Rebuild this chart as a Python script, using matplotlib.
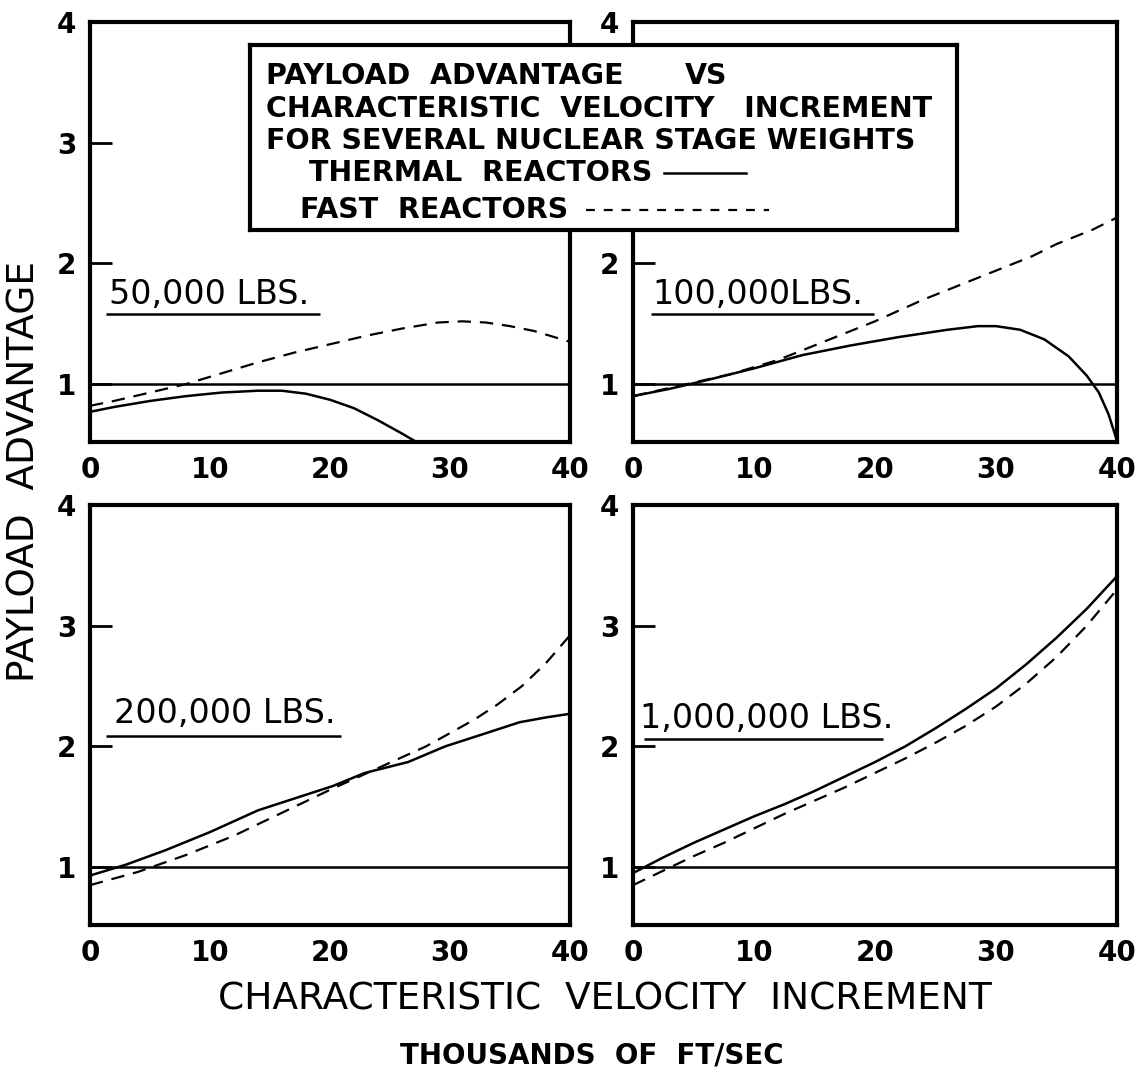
import matplotlib.pyplot as plt

# ---------------------------------------------------------------
# Payload advantage vs characteristic velocity increment
# (x in thousands of ft/sec)
# ---------------------------------------------------------------

STAGE_LABELS = ["50,000 LBS.", "100,000LBS.", "200,000 LBS.", "1,000,000 LBS."]

# 50,000 lbs
X_50K_THERMAL = [0, 2, 5, 8, 11, 14, 16, 18, 20, 22, 24, 26, 27.2]
Y_50K_THERMAL = [0.77, 0.81, 0.86, 0.90, 0.93, 0.945, 0.945, 0.92, 0.87, 0.80, 0.70, 0.59, 0.52]
X_50K_FAST = [0, 2, 5, 8, 11, 14, 17, 20, 23, 26, 29, 31, 33, 35, 37, 40]
Y_50K_FAST = [0.82, 0.86, 0.93, 1.00, 1.09, 1.18, 1.26, 1.33, 1.40, 1.46, 1.51, 1.52, 1.51, 1.48, 1.44, 1.35]

# 100,000 lbs
X_100K_THERMAL = [0, 3, 6, 10, 14, 18, 22, 26, 28.5, 30, 32, 34, 36, 37.5, 38.5, 39.3, 40]
Y_100K_THERMAL = [0.90, 0.96, 1.03, 1.13, 1.24, 1.32, 1.39, 1.45, 1.48, 1.48, 1.45, 1.37, 1.23, 1.07, 0.93, 0.75, 0.53]
X_100K_FAST = [0, 4, 8, 12, 16, 20, 24, 27.5, 30, 33, 35, 38, 40]
Y_100K_FAST = [0.90, 0.99, 1.08, 1.20, 1.36, 1.52, 1.70, 1.84, 1.94, 2.06, 2.16, 2.28, 2.38]

# 200,000 lbs
X_200K_THERMAL = [0, 3, 6.3, 10, 14, 17.4, 20.2, 22.9, 26.5, 29.6, 32.4, 35.8, 38, 40]
Y_200K_THERMAL = [0.93, 1.02, 1.14, 1.29, 1.47, 1.58, 1.67, 1.78, 1.87, 2.00, 2.09, 2.20, 2.24, 2.27]
X_200K_FAST = [0, 4, 8, 12, 16, 20, 24, 28, 32, 34, 36, 38, 40]
Y_200K_FAST = [0.85, 0.96, 1.10, 1.26, 1.45, 1.64, 1.82, 2.00, 2.22, 2.35, 2.50, 2.69, 2.92]

# 1,000,000 lbs
X_1M_THERMAL = [0, 2.5, 5, 7.5, 10, 12.5, 15, 17.5, 20, 22.5, 25, 27.5, 30, 32.5, 35, 37.5, 40]
Y_1M_THERMAL = [0.95, 1.08, 1.20, 1.31, 1.42, 1.52, 1.63, 1.75, 1.87, 2.00, 2.15, 2.31, 2.48, 2.68, 2.90, 3.14, 3.41]
X_1M_FAST = [0, 2.5, 5, 7.5, 10, 12.5, 15, 17.5, 20, 22.5, 25, 27.5, 30, 32.5, 35, 37.5, 40]
Y_1M_FAST = [0.85, 0.97, 1.09, 1.20, 1.32, 1.44, 1.55, 1.66, 1.78, 1.90, 2.03, 2.17, 2.33, 2.52, 2.74, 3.00, 3.30]

X_TICKS = [0, 10, 20, 30, 40]
Y_TICKS = [1, 2, 3, 4]
Y_TICK_LABELS = ["1", "2", "3", "4"]

plt.rcParams.update({
    "font.family": "DejaVu Sans",
    "axes.linewidth": 3.0,
})

W, H = 1140, 1074
fig = plt.figure(figsize=(W / 100, H / 100), dpi=100)
fig.patch.set_facecolor("white")


def fig_rect(x0, y0, x1, y1):
    # pixel box (top-left origin) -> figure fraction rect
    return [x0 / W, 1 - y1 / H, (x1 - x0) / W, (y1 - y0) / H]


panels = [
    (fig_rect(90, 22, 570, 442), X_50K_THERMAL, Y_50K_THERMAL, X_50K_FAST, Y_50K_FAST,
     STAGE_LABELS[0], (1.6, 1.74), (1.35, 19.2, 1.58), False),
    (fig_rect(633, 22, 1117, 442), X_100K_THERMAL, Y_100K_THERMAL, X_100K_FAST, Y_100K_FAST,
     STAGE_LABELS[1], (1.6, 1.74), (1.5, 19.9, 1.58), True),
    (fig_rect(90, 505, 570, 925), X_200K_THERMAL, Y_200K_THERMAL, X_200K_FAST, Y_200K_FAST,
     STAGE_LABELS[2], (2.0, 2.27), (1.3, 20.9, 2.09), False),
    (fig_rect(633, 505, 1117, 925), X_1M_THERMAL, Y_1M_THERMAL, X_1M_FAST, Y_1M_FAST,
     STAGE_LABELS[3], (0.6, 2.23), (0.9, 20.7, 2.06), False),
]

DASH = (0, (6, 4))

for rect, xt, yt, xf, yf, label, txt_pos, uline, under_box in panels:
    ax = fig.add_axes(rect)
    ax.set_xlim(0, 40)
    ax.set_ylim(0.52, 4.0)

    ax.axhline(1, color="black", lw=1.8)
    ax.plot(xt, yt, color="black", lw=1.8, solid_capstyle="round")
    ax.plot(xf, yf, color="black", lw=1.6, linestyle=DASH)

    ax.text(txt_pos[0], txt_pos[1], label, fontsize=24, ha="left", va="center")
    ax.hlines(uline[2], uline[0], uline[1], color="black", lw=1.8)

    ax.set_xticks(X_TICKS)
    ax.set_yticks(Y_TICKS)
    # the "3" of the upper right panel sits under the title box
    ax.set_yticklabels(["" if (under_box and t == "3") else t for t in Y_TICK_LABELS])
    ax.tick_params(axis="x", length=0, pad=10, labelsize=20)
    ax.tick_params(axis="y", direction="in", length=16, width=2, pad=10, labelsize=20)
    for t in ax.get_xticklabels() + ax.get_yticklabels():
        t.set_fontweight("bold")
    for s in ax.spines.values():
        s.set_linewidth(3.0)

# legend / title box laid over the top panels
leg = fig.add_axes(fig_rect(250, 45, 957, 230), zorder=10)
leg.set_xlim(0, 1)
leg.set_ylim(0, 1)
leg.set_xticks([])
leg.set_yticks([])
leg.set_facecolor("white")
for s in leg.spines.values():
    s.set_linewidth(3.0)

rows_y = [0.83, 0.655, 0.48, 0.31, 0.11]
kw = dict(fontsize=20.5, fontweight="bold", ha="left", va="center")
leg.text(0.023, rows_y[0], "PAYLOAD  ADVANTAGE", **kw)
leg.text(0.615, rows_y[0], "VS", **kw)
leg.text(0.023, rows_y[1], "CHARACTERISTIC  VELOCITY   INCREMENT", **kw)
leg.text(0.023, rows_y[2], "FOR SEVERAL NUCLEAR STAGE WEIGHTS", **kw)
leg.text(0.083, rows_y[3], "THERMAL  REACTORS", **kw)
leg.text(0.071, rows_y[4], "FAST  REACTORS", **kw)
leg.plot([0.585, 0.702], [rows_y[3], rows_y[3]], color="black", lw=1.8)
leg.plot([0.475, 0.734], [rows_y[4], rows_y[4]], color="black", lw=1.6, linestyle=(0, (4, 4)))

fig.text(25 / W, 1 - 472 / H, "PAYLOAD  ADVANTAGE", rotation=90,
         fontsize=27, ha="center", va="center")
fig.text(605 / W, 1 - 1000 / H, "CHARACTERISTIC  VELOCITY  INCREMENT",
         fontsize=27, ha="center", va="center")
fig.text(592 / W, 1 - 1055 / H, "THOUSANDS  OF  FT/SEC",
         fontsize=20, fontweight="bold", ha="center", va="center")

fig.savefig("out.png", dpi=100, facecolor="white")
